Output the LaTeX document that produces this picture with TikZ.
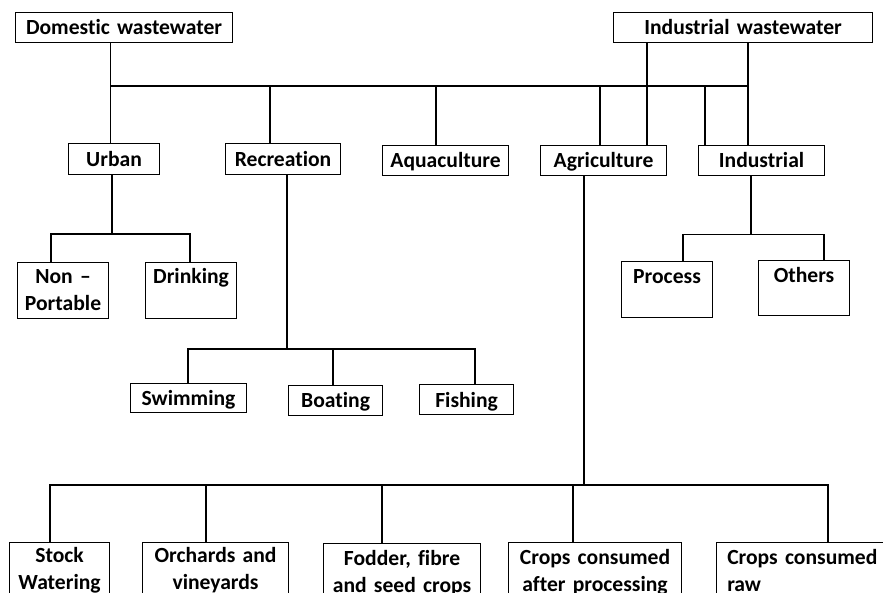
\documentclass[tikz,border=0pt]{standalone}
\usepackage{fontspec}
\setmainfont[Ligatures={NoCommon}, WordSpace=0.85]{Carlito}
\begin{document}
\begin{tikzpicture}[x=1pt,y=-1pt,
  box/.style={draw, line width=1.1pt, inner xsep=0pt, inner ysep=0pt,
    anchor=north west, align=center,
    font=\bfseries\fontsize{21.6}{27}\selectfont},
  link/.style={line width=1.1pt, line join=miter}]
\useasboundingbox (0,0) rectangle (883,593);
\clip (0,0) rectangle (883,593);

% sources
\node[box, text width=217pt, text height=22.3pt, text depth=7.7pt] (dom) at (15,12) {Domestic wastewater};
\node[box, text width=259pt, text height=22.3pt, text depth=7.7pt] (ind) at (613,12) {Industrial wastewater};

% uses
\node[box, text width=91pt,  text height=22.7pt, text depth=8.3pt] (urban) at (68,143) {Urban};
\node[box, text width=115pt, text height=22.7pt, text depth=8.3pt] (rec) at (225,143) {Recreation};
\node[box, text width=126pt, text height=21.7pt, text depth=8.3pt] (aqua) at (382,145) {Aquaculture};
\node[box, text width=126pt, text height=21.7pt, text depth=8.3pt] (agri) at (540,145) {Agriculture};
\node[box, text width=126pt, text height=21.7pt, text depth=8.3pt] (indu) at (698,145) {Industrial};

% urban
\node[box, text width=91pt, text height=21.3pt, text depth=34.7pt] (nonp) at (17,262) {Non –\\Portable};
\node[box, text width=91pt, text height=21.3pt, text depth=34.7pt] (drink) at (145,262) {Drinking};

% industrial
\node[box, text width=91pt, text height=21.7pt, text depth=34.3pt] (proc) at (621,261) {Process};
\node[box, text width=91pt, text height=21.7pt, text depth=33.3pt] (oth) at (758,260) {Others};

% recreation
\node[box, text width=116pt, text height=22pt,   text depth=7pt]   (swim) at (130,383) {Swimming};
\node[box, text width=94pt,  text height=22.3pt, text depth=7.7pt] (boat) at (288,385) {Boating};
\node[box, text width=94pt,  text height=22.7pt, text depth=7.3pt] (fish) at (419,384) {Fishing};

% agriculture
\node[box, text width=100pt, text height=20.3pt, text depth=60pt] (stock) at (9,542) {Stock\\Watering};
\node[box, text width=146pt, text height=20.3pt, text depth=60pt] (orch) at (142,542) {Orchards and\\vineyards};
\node[box, text width=157pt, text height=22pt,   text depth=60pt] (fodd) at (323,543) {Fodder, fibre\\and seed crops};
\node[box, text width=173pt, text height=21.5pt, text depth=60pt] (caft) at (508,542) {Crops consumed\\after processing};
\node[box, align=left, inner xsep=10.7pt, text width=180pt, text height=21.5pt, text depth=60pt] (craw) at (716,542) {Crops consumed\\raw};

% main bus
\coordinate (bL) at (110.7,86);
\coordinate (bR) at (748,86);
\coordinate (jRec) at (270,86);
\coordinate (jAqua) at (436,86);
\coordinate (jAgri) at (600,86);
\coordinate (jIndu) at (705,86);
\coordinate (jIW) at (647,86);
\draw[link] (dom.south -| bL) -- (bL |- urban.north);
\draw[link] (bL) -- (bR);
\draw[link] (jRec) -- (jRec |- rec.north);
\draw[link] (jAqua) -- (jAqua |- aqua.north);
\draw[link] (jAgri) -- (jAgri |- agri.north);
\draw[link] (jIndu) -- (jIndu |- indu.north);
\draw[link] (ind.south -| jIW) -- (jIW |- agri.north);
\draw[link] (ind.south -| bR) -- (bR |- indu.north);

% urban branch
\coordinate (uS) at (112,234);
\coordinate (u1) at (51,234);
\coordinate (u2) at (190,234);
\draw[link] (urban.south -| uS) -- (uS);
\draw[link] (nonp.north -| u1) -- (u1) -- (u2) -- (drink.north -| u2);

% recreation branch
\coordinate (rS) at (287,349);
\coordinate (r1) at (188,349);
\coordinate (r2) at (333,349);
\coordinate (r3) at (475,349);
\draw[link] (rec.south -| rS) -- (rS);
\draw[link] (swim.north -| r1) -- (r1) -- (r3) -- (fish.north -| r3);
\draw[link] (r2) -- (boat.north -| r2);

% industrial branch
\coordinate (iS) at (751,234.5);
\coordinate (i1) at (683,234.5);
\coordinate (i2) at (824,234.5);
\draw[link] (indu.south -| iS) -- (iS);
\draw[link] (proc.north -| i1) -- (i1) -- (i2) -- (oth.north -| i2);

% agriculture branch
\coordinate (aS) at (584,485);
\coordinate (a1) at (50,485);
\coordinate (a2) at (206,485);
\coordinate (a3) at (382,485);
\coordinate (a4) at (573,485);
\coordinate (a5) at (828,485);
\draw[link] (agri.south -| aS) -- (aS);
\draw[link] (stock.north -| a1) -- (a1) -- (a5) -- (craw.north -| a5);
\draw[link] (a2) -- (orch.north -| a2);
\draw[link] (a3) -- (fodd.north -| a3);
\draw[link] (a4) -- (caft.north -| a4);
\end{tikzpicture}
\end{document}
